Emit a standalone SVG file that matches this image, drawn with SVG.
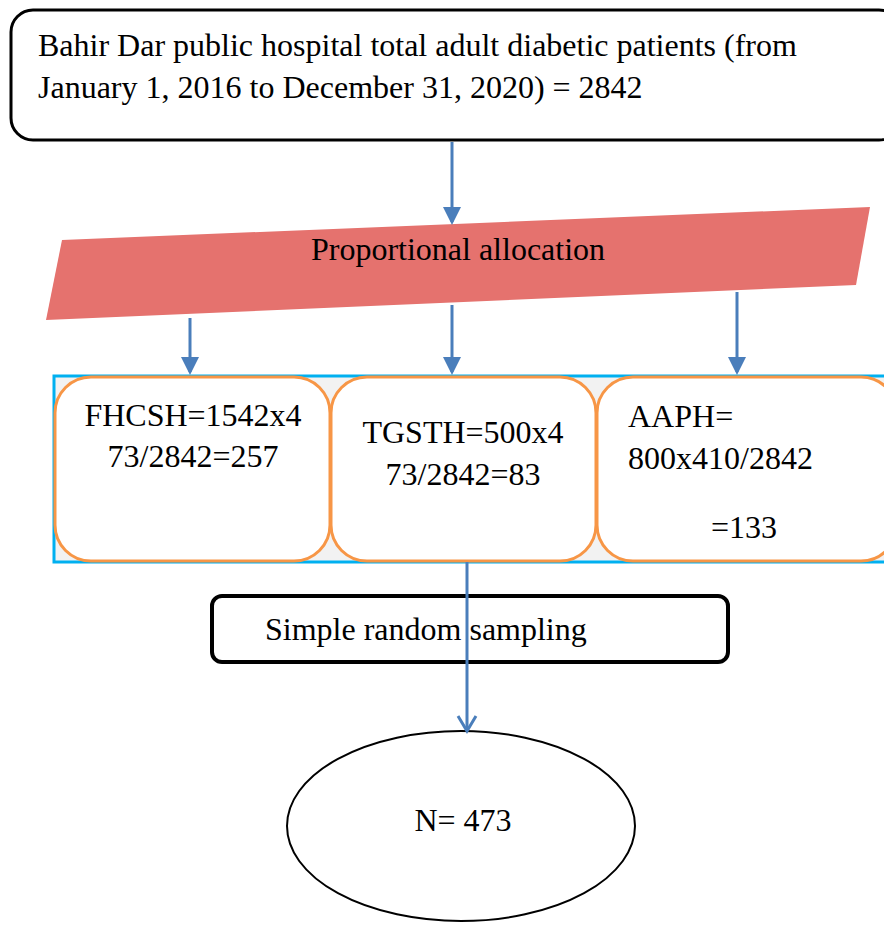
<svg xmlns="http://www.w3.org/2000/svg" width="884" height="930" viewBox="0 0 884 930">
<style>
text{font-family:"Liberation Serif","Times New Roman",serif;font-size:32px;fill:#000}
.conn{stroke:#4A7EBB;stroke-width:3;fill:none}
.ob{fill:#fff;stroke:#F79646;stroke-width:3}
</style>
<defs>
<marker id="tri" markerWidth="6" markerHeight="6" refX="5" refY="3" orient="auto" markerUnits="strokeWidth">
<path d="M0,0 L6,3 L0,6 z" fill="#4A7EBB"/>
</marker>
<marker id="vee" markerWidth="8" markerHeight="8" refX="6" refY="4" orient="auto" markerUnits="strokeWidth">
<path d="M1,1 L6,4 L1,7" fill="none" stroke="#4A7EBB" stroke-width="1"/>
</marker>
</defs>
<g id="total">
<rect x="11" y="10" width="890" height="130" rx="22" fill="#fff" stroke="#000" stroke-width="3"/>
<text x="38" y="56">Bahir Dar public hospital total adult diabetic patients (from</text>
<text x="38" y="98">January 1, 2016 to December 31, 2020) = 2842</text>
</g>
<g id="allocation">
<polygon points="62,240 870,207 856,285 46,320" fill="#E5726E"/>
<text x="458" y="260" text-anchor="middle">Proportional allocation</text>
</g>
<g id="hospitals">
<rect x="54" y="376" width="840" height="186" fill="#F2F2F2" stroke="#00B0F0" stroke-width="3"/>
</g>
<g id="fhcsh">
<rect class="ob" x="55" y="377" width="275" height="184" rx="36"/>
<text x="193" y="426" text-anchor="middle">FHCSH=1542x4</text>
<text x="193" y="467" text-anchor="middle">73/2842=257</text>
</g>
<g id="tgsth">
<rect class="ob" x="331" y="377" width="265" height="184" rx="36"/>
<text x="463" y="443" text-anchor="middle">TGSTH=500x4</text>
<text x="463" y="485" text-anchor="middle">73/2842=83</text>
</g>
<g id="aaph">
<rect class="ob" x="597" y="377" width="300" height="184" rx="36"/>
<text x="628" y="427">AAPH=</text>
<text x="628" y="469">800x410/2842</text>
<text x="711" y="538">=133</text>
</g>
<g id="srs">
<rect x="212" y="596" width="516" height="66" rx="10" fill="#fff" stroke="#000" stroke-width="4"/>
<text x="265" y="640">Simple random sampling</text>
</g>
<g id="result">
<ellipse cx="461" cy="826" rx="174" ry="95" fill="#fff" stroke="#000" stroke-width="2"/>
<text x="463" y="831" text-anchor="middle">N= 473</text>
</g>
<g id="connectors">
<line class="conn" x1="452" y1="142" x2="452" y2="222" marker-end="url(#tri)"/>
<line class="conn" x1="190" y1="318" x2="190" y2="372" marker-end="url(#tri)"/>
<line class="conn" x1="452" y1="305" x2="452" y2="372" marker-end="url(#tri)"/>
<line class="conn" x1="737" y1="292" x2="737" y2="372" marker-end="url(#tri)"/>
<line class="conn" x1="467" y1="562" x2="467" y2="731" marker-end="url(#vee)"/>
</g>
</svg>
